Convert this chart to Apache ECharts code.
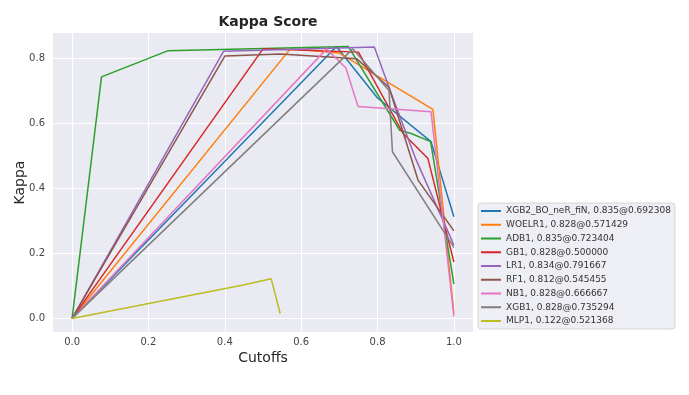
<!DOCTYPE html>
<html><head><meta charset="utf-8">
<script src="https://cdn.jsdelivr.net/npm/echarts@6/dist/echarts.min.js"></script>
<style>html,body{margin:0;padding:0;background:#fff}#c{width:689px;height:395px}</style>
</head><body><div id="c"></div>
<script>
const seriesNames = [
  "XGB2_BO_neR_fiN, 0.835@0.692308",
  "WOELR1, 0.828@0.571429",
  "ADB1, 0.835@0.723404",
  "GB1, 0.828@0.500000",
  "LR1, 0.834@0.791667",
  "RF1, 0.812@0.545455",
  "NB1, 0.828@0.666667",
  "XGB1, 0.828@0.735294",
  "MLP1, 0.122@0.521368"
];
const colors = ["#1f77b4","#ff7f0e","#2ca02c","#d62728","#9467bd","#8c564b","#e377c2","#7f7f7f","#bcbd22"];

const xgb2X = [0, 0.692308, 0.80, 0.94, 1.0];
const xgb2Y = [0, 0.835, 0.677, 0.543, 0.312];
const woelr1X = [0, 0.571429, 0.70, 0.945, 1.0];
const woelr1Y = [0, 0.828, 0.815, 0.642, 0.015];
const adb1X = [0, 0.077, 0.25, 0.723404, 0.858, 0.888, 0.939, 1.0];
const adb1Y = [0, 0.742, 0.822, 0.835, 0.578, 0.568, 0.543, 0.105];
const gb1X = [0, 0.5, 0.75, 0.867, 0.932, 1.0];
const gb1Y = [0, 0.828, 0.818, 0.568, 0.491, 0.173];
const lr1X = [0, 0.397, 0.791667, 0.833, 0.90, 1.0];
const lr1Y = [0, 0.821, 0.834, 0.70, 0.49, 0.225];
const rf1X = [0, 0.40, 0.545455, 0.745, 0.83, 0.906, 1.0];
const rf1Y = [0, 0.806, 0.812, 0.798, 0.71, 0.425, 0.269];
const nb1X = [0, 0.666667, 0.717, 0.749, 0.94, 1.0];
const nb1Y = [0, 0.828, 0.769, 0.651, 0.635, 0.006];
const xgb1X = [0, 0.735294, 0.83, 0.839, 1.0];
const xgb1Y = [0, 0.828, 0.70, 0.512, 0.218];
const mlp1X = [0, 0.445, 0.521368, 0.545];
const mlp1Y = [0, 0.102, 0.122, 0.015];

const xTicks = [0, 0.2, 0.4, 0.6, 0.8, 1.0];
const yTicks = [0, 0.2, 0.4, 0.6, 0.8];

const allX = [xgb2X, woelr1X, adb1X, gb1X, lr1X, rf1X, nb1X, xgb1X, mlp1X];
const allY = [xgb2Y, woelr1Y, adb1Y, gb1Y, lr1Y, rf1Y, nb1Y, xgb1Y, mlp1Y];

const font = "DejaVu Sans";
const chart = echarts.init(document.getElementById('c'), null, {renderer:'canvas'});
chart.setOption({
  animation: false,
  backgroundColor: '#ffffff',
  color: colors,
  title: {
    text: 'Kappa Score', left: 263, top: 10, textAlign: 'center',
    textStyle: {fontFamily: font, fontSize: 14, fontWeight: 'bold', color: '#262626'}
  },
  grid: {left: 53, top: 33, right: 216, bottom: 63, show: true, backgroundColor: '#EAEAF2', borderWidth: 0,
    containLabel: false, outerBoundsMode: 'none'},
  xAxis: {
    type: 'value', min: -0.05, max: 1.05,
    name: 'Cutoffs', nameLocation: 'middle', nameGap: 19, nameMoveOverlap: false,
    nameTextStyle: {fontFamily: font, fontSize: 14, color: '#262626'},
    axisLine: {show: false}, axisTick: {show: false, customValues: xTicks},
    axisLabel: {customValues: xTicks, fontFamily: font, fontSize: 10, color: '#444', margin: 5,
      formatter: v => v.toFixed(1)},
    splitLine: {show: true, lineStyle: {color: '#ffffff', width: 1}}
  },
  yAxis: {
    type: 'value', min: -0.04175, max: 0.87675,
    name: 'Kappa', nameLocation: 'middle', nameGap: 26, nameRotate: 90, nameMoveOverlap: false,
    nameTextStyle: {fontFamily: font, fontSize: 14, color: '#262626'},
    axisLine: {show: false}, axisTick: {show: false, customValues: yTicks},
    axisLabel: {customValues: yTicks, fontFamily: font, fontSize: 10, color: '#444', margin: 8,
      formatter: v => v.toFixed(1)},
    splitLine: {show: true, lineStyle: {color: '#ffffff', width: 1}}
  },
  legend: {
    orient: 'vertical', left: 478, top: 203,
    icon: 'rect', itemWidth: 20, itemHeight: 2, itemGap: 1.75,
    padding: [2, 4, 2, 3],
    backgroundColor: 'rgba(238,238,245,1)', borderColor: '#d6d6d6', borderWidth: 1, borderRadius: 3,
    textStyle: {fontFamily: font, fontSize: 9, color: '#333', lineHeight: 12},
    data: seriesNames
  },
  series: seriesNames.map((n, i) => ({
    name: n, type: 'line', showSymbol: false, symbol: 'none',
    lineStyle: {width: 1.5, color: colors[i]},
    itemStyle: {color: colors[i]},
    data: allX[i].map((x, j) => [x, allY[i][j]])
  }))
});
</script></body></html>
